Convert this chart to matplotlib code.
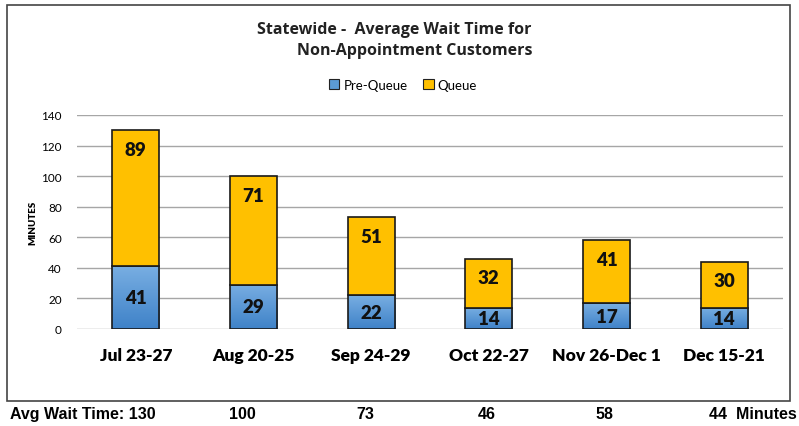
import matplotlib.pyplot as plt
import numpy as np
from matplotlib.patches import Rectangle, Patch
from matplotlib.colors import LinearSegmentedColormap

# --- Data ---
periods = ["Jul 23-27", "Aug 20-25", "Sep 24-29", "Oct 22-27", "Nov 26-Dec 1", "Dec 15-21"]
pre_queue = [41, 29, 22, 14, 17, 14]
queue = [89, 71, 51, 32, 41, 30]
avg_wait = [130, 100, 73, 46, 58, 44]

plt.rcParams['font.family'] = ['Lato', 'DejaVu Sans']

W, H = 799, 427
fig = plt.figure(figsize=(W / 100, H / 100), dpi=100)

# chart frame
fig.patches.append(Rectangle((7 / W, 1 - 402 / H), 783 / W, 396 / H,
                             transform=fig.transFigure, fill=False,
                             edgecolor='#444444', lw=1.2))

ax = fig.add_axes([77 / W, 1 - 330 / H, 706 / W, 214 / H])
x = np.arange(len(periods))
bw = 0.4
yellow = '#FFC000'

# blue gradient bars (lighter on top, darker at the bottom)
grad = np.linspace(0, 1, 100).reshape(-1, 1)
blues = LinearSegmentedColormap.from_list('b', ['#3F82C8', '#78AEE2'])
for xi, pq in zip(x, pre_queue):
    r = Rectangle((xi - bw / 2, 0), bw, pq, facecolor='none', edgecolor='none')
    ax.add_patch(r)
    im = ax.imshow(grad, cmap=blues, origin='lower', aspect='auto',
                   extent=(xi - bw / 2, xi + bw / 2, 0, pq), zorder=2)
    im.set_clip_path(r)
ax.bar(x, pre_queue, bw, facecolor='none', edgecolor='#1a1a1a', lw=1.2, zorder=3)
ax.bar(x, queue, bw, bottom=pre_queue, color=yellow, edgecolor='#1a1a1a', lw=1.2, zorder=3)

for xi, pq, q in zip(x, pre_queue, queue):
    ax.text(xi, pq / 2, str(pq), ha='center', va='center', fontsize=13.5,
            fontweight='heavy', color='#111111', zorder=4)
    ax.text(xi, pq + q - 12.5, str(q), ha='center', va='center', fontsize=13.5,
            fontweight='heavy', color='#111111', zorder=4)

ax.set_xlim(-0.5, len(periods) - 0.5)
ax.set_ylim(0, 140)
ax.set_yticks(range(0, 141, 20))
ax.yaxis.grid(True, color='#a6a6a6', lw=1)
ax.set_axisbelow(True)
for s in ax.spines.values():
    s.set_visible(False)
ax.tick_params(axis='both', length=0)
ax.tick_params(axis='y', labelsize=8.5, pad=11)
ax.set_xticks(x)
ax.set_xticklabels(periods, fontsize=12.5, fontweight='heavy')
ax.tick_params(axis='x', pad=13)
ax.set_ylabel('MINUTES', fontsize=7, fontweight='heavy', labelpad=3)

# title and legend
tfont = dict(fontsize=11.5, fontweight='bold', color='#222222', ha='center', va='center',
             family=['Open Sans', 'DejaVu Sans'])
fig.text(394 / W, 1 - 30 / H, 'Statewide -  Average Wait Time for', **tfont)
fig.text(415 / W, 1 - 51 / H, 'Non-Appointment Customers', **tfont)
handles = [Patch(facecolor='#5B9BD5', edgecolor='#222222', lw=0.8),
           Patch(facecolor=yellow, edgecolor='#222222', lw=0.8)]
fig.legend(handles, ['Pre-Queue', 'Queue'], loc='center', bbox_to_anchor=(403 / W, 1 - 86 / H),
           ncol=2, frameon=False, fontsize=9.5, handlelength=0.8, handleheight=0.8,
           handletextpad=0.3, columnspacing=1.2)

# bottom line of average wait times
bfont = dict(fontsize=11.5, fontweight='bold', family=['Liberation Sans Narrow', 'Liberation Sans', 'DejaVu Sans'],
             va='center')
yb = 1 - 415 / H
fig.text(10 / W, yb, f'Avg Wait Time: {avg_wait[0]}', ha='left', **bfont)
for xp, v in zip([242, 365, 487, 604], avg_wait[1:5]):
    fig.text(xp / W, yb, str(v), ha='center', **bfont)
fig.text(709 / W, yb, f'{avg_wait[5]}  Minutes', ha='left', **bfont)

fig.savefig('out.png', dpi=100)
